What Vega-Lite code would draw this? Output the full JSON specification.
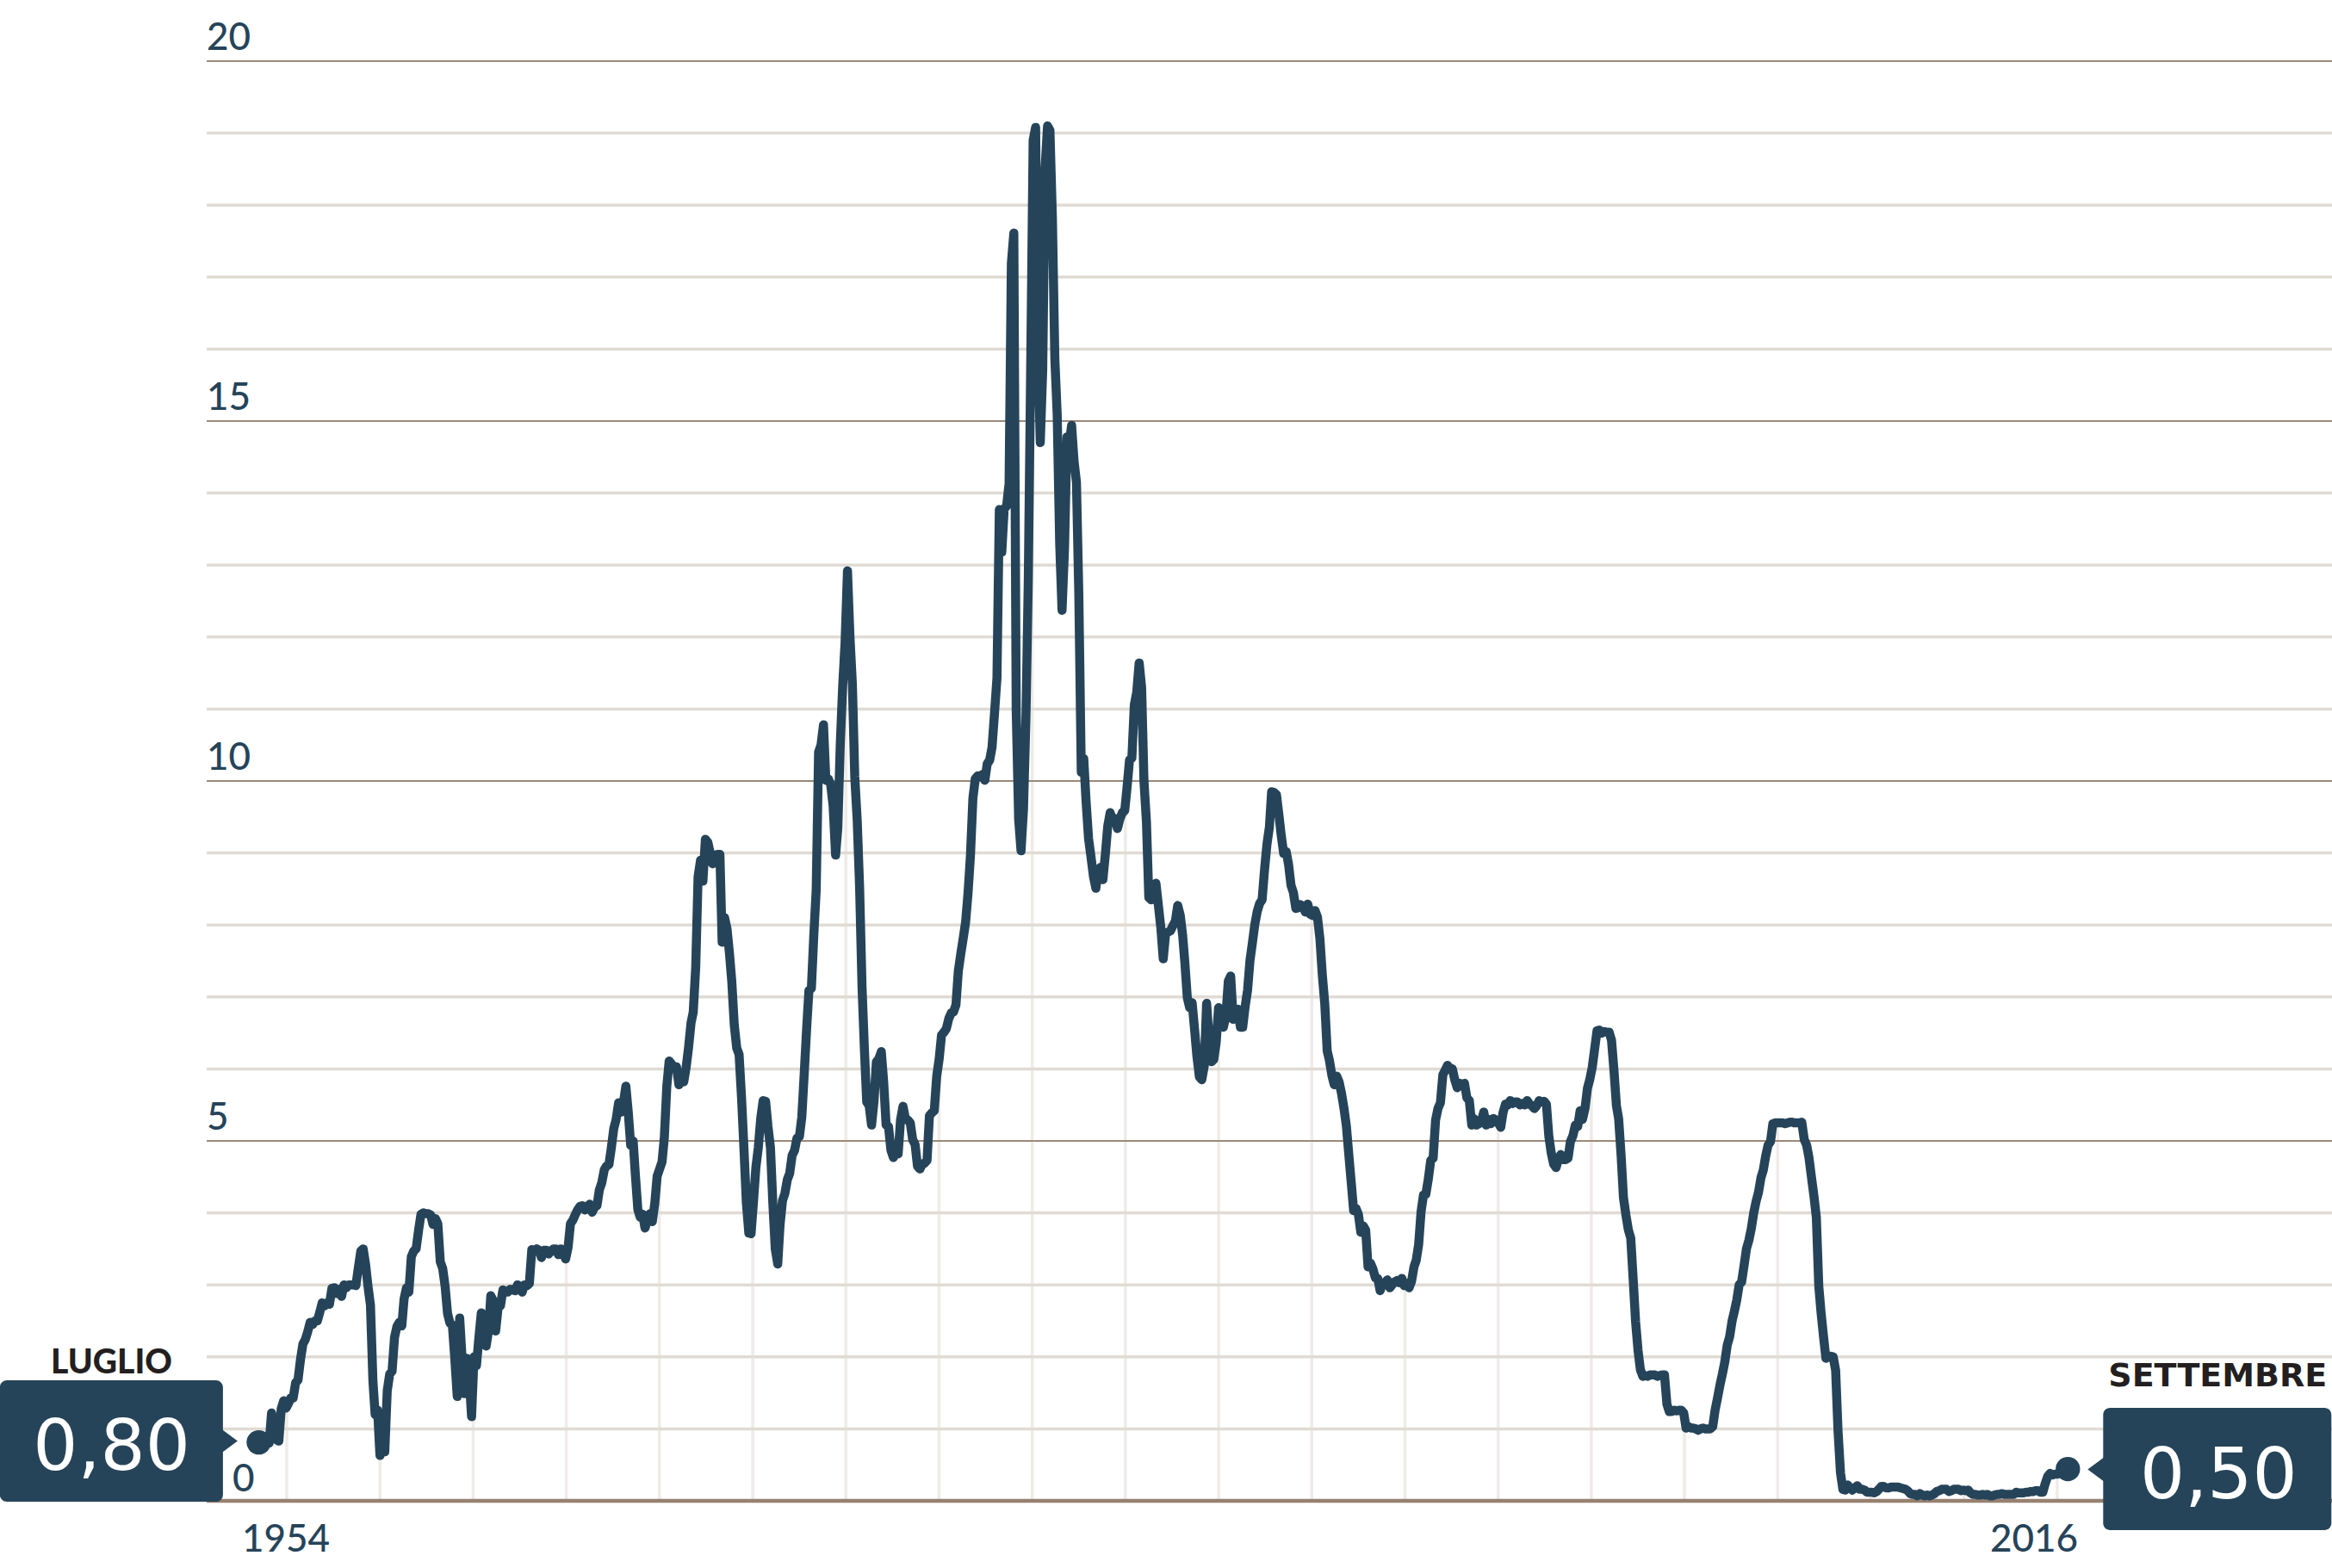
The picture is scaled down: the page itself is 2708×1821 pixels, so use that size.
{
"$schema":"https://vega.github.io/schema/vega-lite/v6.json",
"width":2708,"height":1672,
"autosize":{"type":"none"},
"padding":{"left":0,"right":0,"top":71,"bottom":78},
"background":"white",
"config":{"view":{"stroke":null}},
"datasets":{
"fed":[
{"d":"1954-07","r":0.80},{"d":"1954-08","r":1.22},{"d":"1954-09","r":1.07},{"d":"1954-10","r":0.85},{"d":"1954-11","r":0.83},{"d":"1954-12","r":1.28},
{"d":"1955-01","r":1.39},{"d":"1955-02","r":1.29},{"d":"1955-03","r":1.35},{"d":"1955-04","r":1.43},{"d":"1955-05","r":1.43},{"d":"1955-06","r":1.64},{"d":"1955-07","r":1.68},{"d":"1955-08","r":1.96},{"d":"1955-09","r":2.18},{"d":"1955-10","r":2.24},{"d":"1955-11","r":2.35},{"d":"1955-12","r":2.48},
{"d":"1956-01","r":2.45},{"d":"1956-02","r":2.50},{"d":"1956-03","r":2.50},{"d":"1956-04","r":2.62},{"d":"1956-05","r":2.75},{"d":"1956-06","r":2.71},{"d":"1956-07","r":2.75},{"d":"1956-08","r":2.73},{"d":"1956-09","r":2.95},{"d":"1956-10","r":2.96},{"d":"1956-11","r":2.88},{"d":"1956-12","r":2.94},
{"d":"1957-01","r":2.84},{"d":"1957-02","r":3.00},{"d":"1957-03","r":2.96},{"d":"1957-04","r":3.00},{"d":"1957-05","r":3.00},{"d":"1957-06","r":3.00},{"d":"1957-07","r":2.99},{"d":"1957-08","r":3.24},{"d":"1957-09","r":3.47},{"d":"1957-10","r":3.50},{"d":"1957-11","r":3.28},{"d":"1957-12","r":2.98},
{"d":"1958-01","r":2.72},{"d":"1958-02","r":1.67},{"d":"1958-03","r":1.20},{"d":"1958-04","r":1.26},{"d":"1958-05","r":0.63},{"d":"1958-06","r":0.93},{"d":"1958-07","r":0.68},{"d":"1958-08","r":1.53},{"d":"1958-09","r":1.76},{"d":"1958-10","r":1.80},{"d":"1958-11","r":2.27},{"d":"1958-12","r":2.42},
{"d":"1959-01","r":2.48},{"d":"1959-02","r":2.43},{"d":"1959-03","r":2.80},{"d":"1959-04","r":2.96},{"d":"1959-05","r":2.90},{"d":"1959-06","r":3.39},{"d":"1959-07","r":3.47},{"d":"1959-08","r":3.50},{"d":"1959-09","r":3.76},{"d":"1959-10","r":3.98},{"d":"1959-11","r":4.00},{"d":"1959-12","r":3.99},
{"d":"1960-01","r":3.99},{"d":"1960-02","r":3.97},{"d":"1960-03","r":3.84},{"d":"1960-04","r":3.92},{"d":"1960-05","r":3.85},{"d":"1960-06","r":3.32},{"d":"1960-07","r":3.23},{"d":"1960-08","r":2.98},{"d":"1960-09","r":2.60},{"d":"1960-10","r":2.47},{"d":"1960-11","r":2.44},{"d":"1960-12","r":1.98},
{"d":"1961-01","r":1.45},{"d":"1961-02","r":2.54},{"d":"1961-03","r":2.02},{"d":"1961-04","r":1.49},{"d":"1961-05","r":1.98},{"d":"1961-06","r":1.73},{"d":"1961-07","r":1.17},{"d":"1961-08","r":2.00},{"d":"1961-09","r":1.88},{"d":"1961-10","r":2.26},{"d":"1961-11","r":2.61},{"d":"1961-12","r":2.33},
{"d":"1962-01","r":2.15},{"d":"1962-02","r":2.37},{"d":"1962-03","r":2.85},{"d":"1962-04","r":2.78},{"d":"1962-05","r":2.36},{"d":"1962-06","r":2.68},{"d":"1962-07","r":2.71},{"d":"1962-08","r":2.93},{"d":"1962-09","r":2.90},{"d":"1962-10","r":2.90},{"d":"1962-11","r":2.94},{"d":"1962-12","r":2.93},
{"d":"1963-01","r":2.92},{"d":"1963-02","r":3.00},{"d":"1963-03","r":2.98},{"d":"1963-04","r":2.90},{"d":"1963-05","r":3.00},{"d":"1963-06","r":2.99},{"d":"1963-07","r":3.02},{"d":"1963-08","r":3.49},{"d":"1963-09","r":3.48},{"d":"1963-10","r":3.50},{"d":"1963-11","r":3.48},{"d":"1963-12","r":3.38},
{"d":"1964-01","r":3.48},{"d":"1964-02","r":3.48},{"d":"1964-03","r":3.43},{"d":"1964-04","r":3.47},{"d":"1964-05","r":3.50},{"d":"1964-06","r":3.50},{"d":"1964-07","r":3.42},{"d":"1964-08","r":3.50},{"d":"1964-09","r":3.45},{"d":"1964-10","r":3.36},{"d":"1964-11","r":3.52},{"d":"1964-12","r":3.85},
{"d":"1965-01","r":3.90},{"d":"1965-02","r":3.98},{"d":"1965-03","r":4.04},{"d":"1965-04","r":4.09},{"d":"1965-05","r":4.10},{"d":"1965-06","r":4.04},{"d":"1965-07","r":4.09},{"d":"1965-08","r":4.12},{"d":"1965-09","r":4.01},{"d":"1965-10","r":4.08},{"d":"1965-11","r":4.10},{"d":"1965-12","r":4.32},
{"d":"1966-01","r":4.42},{"d":"1966-02","r":4.60},{"d":"1966-03","r":4.65},{"d":"1966-04","r":4.67},{"d":"1966-05","r":4.90},{"d":"1966-06","r":5.17},{"d":"1966-07","r":5.30},{"d":"1966-08","r":5.53},{"d":"1966-09","r":5.40},{"d":"1966-10","r":5.53},{"d":"1966-11","r":5.76},{"d":"1966-12","r":5.40},
{"d":"1967-01","r":4.94},{"d":"1967-02","r":5.00},{"d":"1967-03","r":4.53},{"d":"1967-04","r":4.05},{"d":"1967-05","r":3.94},{"d":"1967-06","r":3.98},{"d":"1967-07","r":3.79},{"d":"1967-08","r":3.90},{"d":"1967-09","r":3.99},{"d":"1967-10","r":3.88},{"d":"1967-11","r":4.13},{"d":"1967-12","r":4.51},
{"d":"1968-01","r":4.61},{"d":"1968-02","r":4.71},{"d":"1968-03","r":5.05},{"d":"1968-04","r":5.76},{"d":"1968-05","r":6.11},{"d":"1968-06","r":6.07},{"d":"1968-07","r":6.02},{"d":"1968-08","r":6.03},{"d":"1968-09","r":5.78},{"d":"1968-10","r":5.91},{"d":"1968-11","r":5.82},{"d":"1968-12","r":6.02},
{"d":"1969-01","r":6.30},{"d":"1969-02","r":6.64},{"d":"1969-03","r":6.79},{"d":"1969-04","r":7.41},{"d":"1969-05","r":8.67},{"d":"1969-06","r":8.90},{"d":"1969-07","r":8.61},{"d":"1969-08","r":9.19},{"d":"1969-09","r":9.15},{"d":"1969-10","r":9.00},{"d":"1969-11","r":8.85},{"d":"1969-12","r":8.97},
{"d":"1970-01","r":8.98},{"d":"1970-02","r":8.98},{"d":"1970-03","r":7.76},{"d":"1970-04","r":8.10},{"d":"1970-05","r":7.95},{"d":"1970-06","r":7.61},{"d":"1970-07","r":7.21},{"d":"1970-08","r":6.61},{"d":"1970-09","r":6.29},{"d":"1970-10","r":6.20},{"d":"1970-11","r":5.60},{"d":"1970-12","r":4.90},
{"d":"1971-01","r":4.14},{"d":"1971-02","r":3.72},{"d":"1971-03","r":3.71},{"d":"1971-04","r":4.16},{"d":"1971-05","r":4.63},{"d":"1971-06","r":4.91},{"d":"1971-07","r":5.31},{"d":"1971-08","r":5.56},{"d":"1971-09","r":5.55},{"d":"1971-10","r":5.20},{"d":"1971-11","r":4.91},{"d":"1971-12","r":4.14},
{"d":"1972-01","r":3.50},{"d":"1972-02","r":3.29},{"d":"1972-03","r":3.83},{"d":"1972-04","r":4.17},{"d":"1972-05","r":4.27},{"d":"1972-06","r":4.46},{"d":"1972-07","r":4.55},{"d":"1972-08","r":4.80},{"d":"1972-09","r":4.87},{"d":"1972-10","r":5.04},{"d":"1972-11","r":5.06},{"d":"1972-12","r":5.33},
{"d":"1973-01","r":5.94},{"d":"1973-02","r":6.58},{"d":"1973-03","r":7.09},{"d":"1973-04","r":7.12},{"d":"1973-05","r":7.84},{"d":"1973-06","r":8.49},{"d":"1973-07","r":10.40},{"d":"1973-08","r":10.50},{"d":"1973-09","r":10.78},{"d":"1973-10","r":10.01},{"d":"1973-11","r":10.03},{"d":"1973-12","r":9.95},
{"d":"1974-01","r":9.65},{"d":"1974-02","r":8.97},{"d":"1974-03","r":9.35},{"d":"1974-04","r":10.51},{"d":"1974-05","r":11.31},{"d":"1974-06","r":11.93},{"d":"1974-07","r":12.92},{"d":"1974-08","r":12.01},{"d":"1974-09","r":11.34},{"d":"1974-10","r":10.06},{"d":"1974-11","r":9.45},{"d":"1974-12","r":8.53},
{"d":"1975-01","r":7.13},{"d":"1975-02","r":6.24},{"d":"1975-03","r":5.54},{"d":"1975-04","r":5.49},{"d":"1975-05","r":5.22},{"d":"1975-06","r":5.55},{"d":"1975-07","r":6.10},{"d":"1975-08","r":6.14},{"d":"1975-09","r":6.24},{"d":"1975-10","r":5.82},{"d":"1975-11","r":5.22},{"d":"1975-12","r":5.20},
{"d":"1976-01","r":4.87},{"d":"1976-02","r":4.77},{"d":"1976-03","r":4.84},{"d":"1976-04","r":4.82},{"d":"1976-05","r":5.29},{"d":"1976-06","r":5.48},{"d":"1976-07","r":5.31},{"d":"1976-08","r":5.29},{"d":"1976-09","r":5.25},{"d":"1976-10","r":5.02},{"d":"1976-11","r":4.95},{"d":"1976-12","r":4.65},
{"d":"1977-01","r":4.61},{"d":"1977-02","r":4.68},{"d":"1977-03","r":4.69},{"d":"1977-04","r":4.73},{"d":"1977-05","r":5.35},{"d":"1977-06","r":5.39},{"d":"1977-07","r":5.42},{"d":"1977-08","r":5.90},{"d":"1977-09","r":6.14},{"d":"1977-10","r":6.47},{"d":"1977-11","r":6.51},{"d":"1977-12","r":6.56},
{"d":"1978-01","r":6.70},{"d":"1978-02","r":6.78},{"d":"1978-03","r":6.79},{"d":"1978-04","r":6.89},{"d":"1978-05","r":7.36},{"d":"1978-06","r":7.60},{"d":"1978-07","r":7.81},{"d":"1978-08","r":8.04},{"d":"1978-09","r":8.45},{"d":"1978-10","r":8.96},{"d":"1978-11","r":9.76},{"d":"1978-12","r":10.03},
{"d":"1979-01","r":10.07},{"d":"1979-02","r":10.06},{"d":"1979-03","r":10.09},{"d":"1979-04","r":10.01},{"d":"1979-05","r":10.24},{"d":"1979-06","r":10.29},{"d":"1979-07","r":10.47},{"d":"1979-08","r":10.94},{"d":"1979-09","r":11.43},{"d":"1979-10","r":13.77},{"d":"1979-11","r":13.18},{"d":"1979-12","r":13.78},
{"d":"1980-01","r":13.82},{"d":"1980-02","r":14.13},{"d":"1980-03","r":17.19},{"d":"1980-04","r":17.61},{"d":"1980-05","r":10.98},{"d":"1980-06","r":9.47},{"d":"1980-07","r":9.03},{"d":"1980-08","r":9.61},{"d":"1980-09","r":10.87},{"d":"1980-10","r":12.81},{"d":"1980-11","r":15.85},{"d":"1980-12","r":18.90},
{"d":"1981-01","r":19.08},{"d":"1981-02","r":15.93},{"d":"1981-03","r":14.70},{"d":"1981-04","r":15.72},{"d":"1981-05","r":18.52},{"d":"1981-06","r":19.10},{"d":"1981-07","r":19.04},{"d":"1981-08","r":17.82},{"d":"1981-09","r":15.87},{"d":"1981-10","r":15.08},{"d":"1981-11","r":13.31},{"d":"1981-12","r":12.37},
{"d":"1982-01","r":13.22},{"d":"1982-02","r":14.78},{"d":"1982-03","r":14.68},{"d":"1982-04","r":14.94},{"d":"1982-05","r":14.45},{"d":"1982-06","r":14.15},{"d":"1982-07","r":12.59},{"d":"1982-08","r":10.12},{"d":"1982-09","r":10.31},{"d":"1982-10","r":9.71},{"d":"1982-11","r":9.20},{"d":"1982-12","r":8.95},
{"d":"1983-01","r":8.68},{"d":"1983-02","r":8.51},{"d":"1983-03","r":8.77},{"d":"1983-04","r":8.80},{"d":"1983-05","r":8.63},{"d":"1983-06","r":8.98},{"d":"1983-07","r":9.37},{"d":"1983-08","r":9.56},{"d":"1983-09","r":9.45},{"d":"1983-10","r":9.48},{"d":"1983-11","r":9.34},{"d":"1983-12","r":9.47},
{"d":"1984-01","r":9.56},{"d":"1984-02","r":9.59},{"d":"1984-03","r":9.91},{"d":"1984-04","r":10.29},{"d":"1984-05","r":10.32},{"d":"1984-06","r":11.06},{"d":"1984-07","r":11.23},{"d":"1984-08","r":11.64},{"d":"1984-09","r":11.30},{"d":"1984-10","r":9.99},{"d":"1984-11","r":9.43},{"d":"1984-12","r":8.38},
{"d":"1985-01","r":8.35},{"d":"1985-02","r":8.50},{"d":"1985-03","r":8.58},{"d":"1985-04","r":8.27},{"d":"1985-05","r":7.97},{"d":"1985-06","r":7.53},{"d":"1985-07","r":7.88},{"d":"1985-08","r":7.90},{"d":"1985-09","r":7.92},{"d":"1985-10","r":7.99},{"d":"1985-11","r":8.05},{"d":"1985-12","r":8.27},
{"d":"1986-01","r":8.14},{"d":"1986-02","r":7.86},{"d":"1986-03","r":7.48},{"d":"1986-04","r":6.99},{"d":"1986-05","r":6.85},{"d":"1986-06","r":6.92},{"d":"1986-07","r":6.56},{"d":"1986-08","r":6.17},{"d":"1986-09","r":5.89},{"d":"1986-10","r":5.85},{"d":"1986-11","r":6.04},{"d":"1986-12","r":6.91},
{"d":"1987-01","r":6.43},{"d":"1987-02","r":6.10},{"d":"1987-03","r":6.13},{"d":"1987-04","r":6.37},{"d":"1987-05","r":6.85},{"d":"1987-06","r":6.73},{"d":"1987-07","r":6.58},{"d":"1987-08","r":6.73},{"d":"1987-09","r":7.22},{"d":"1987-10","r":7.29},{"d":"1987-11","r":6.69},{"d":"1987-12","r":6.77},
{"d":"1988-01","r":6.83},{"d":"1988-02","r":6.58},{"d":"1988-03","r":6.58},{"d":"1988-04","r":6.87},{"d":"1988-05","r":7.09},{"d":"1988-06","r":7.51},{"d":"1988-07","r":7.75},{"d":"1988-08","r":8.01},{"d":"1988-09","r":8.19},{"d":"1988-10","r":8.30},{"d":"1988-11","r":8.35},{"d":"1988-12","r":8.76},
{"d":"1989-01","r":9.12},{"d":"1989-02","r":9.36},{"d":"1989-03","r":9.85},{"d":"1989-04","r":9.84},{"d":"1989-05","r":9.81},{"d":"1989-06","r":9.53},{"d":"1989-07","r":9.24},{"d":"1989-08","r":8.99},{"d":"1989-09","r":9.02},{"d":"1989-10","r":8.84},{"d":"1989-11","r":8.55},{"d":"1989-12","r":8.45},
{"d":"1990-01","r":8.23},{"d":"1990-02","r":8.24},{"d":"1990-03","r":8.28},{"d":"1990-04","r":8.26},{"d":"1990-05","r":8.18},{"d":"1990-06","r":8.29},{"d":"1990-07","r":8.15},{"d":"1990-08","r":8.13},{"d":"1990-09","r":8.20},{"d":"1990-10","r":8.11},{"d":"1990-11","r":7.81},{"d":"1990-12","r":7.31},
{"d":"1991-01","r":6.91},{"d":"1991-02","r":6.25},{"d":"1991-03","r":6.12},{"d":"1991-04","r":5.91},{"d":"1991-05","r":5.78},{"d":"1991-06","r":5.90},{"d":"1991-07","r":5.82},{"d":"1991-08","r":5.66},{"d":"1991-09","r":5.45},{"d":"1991-10","r":5.21},{"d":"1991-11","r":4.81},{"d":"1991-12","r":4.43},
{"d":"1992-01","r":4.03},{"d":"1992-02","r":4.06},{"d":"1992-03","r":3.98},{"d":"1992-04","r":3.73},{"d":"1992-05","r":3.82},{"d":"1992-06","r":3.76},{"d":"1992-07","r":3.25},{"d":"1992-08","r":3.30},{"d":"1992-09","r":3.22},{"d":"1992-10","r":3.10},{"d":"1992-11","r":3.09},{"d":"1992-12","r":2.92},
{"d":"1993-01","r":3.02},{"d":"1993-02","r":3.03},{"d":"1993-03","r":3.07},{"d":"1993-04","r":2.96},{"d":"1993-05","r":3.00},{"d":"1993-06","r":3.04},{"d":"1993-07","r":3.06},{"d":"1993-08","r":3.03},{"d":"1993-09","r":3.09},{"d":"1993-10","r":2.99},{"d":"1993-11","r":3.02},{"d":"1993-12","r":2.96},
{"d":"1994-01","r":3.05},{"d":"1994-02","r":3.25},{"d":"1994-03","r":3.34},{"d":"1994-04","r":3.56},{"d":"1994-05","r":4.01},{"d":"1994-06","r":4.25},{"d":"1994-07","r":4.26},{"d":"1994-08","r":4.47},{"d":"1994-09","r":4.73},{"d":"1994-10","r":4.76},{"d":"1994-11","r":5.29},{"d":"1994-12","r":5.45},
{"d":"1995-01","r":5.53},{"d":"1995-02","r":5.92},{"d":"1995-03","r":5.98},{"d":"1995-04","r":6.05},{"d":"1995-05","r":6.01},{"d":"1995-06","r":6.00},{"d":"1995-07","r":5.85},{"d":"1995-08","r":5.74},{"d":"1995-09","r":5.80},{"d":"1995-10","r":5.76},{"d":"1995-11","r":5.80},{"d":"1995-12","r":5.60},
{"d":"1996-01","r":5.56},{"d":"1996-02","r":5.22},{"d":"1996-03","r":5.31},{"d":"1996-04","r":5.22},{"d":"1996-05","r":5.24},{"d":"1996-06","r":5.27},{"d":"1996-07","r":5.40},{"d":"1996-08","r":5.22},{"d":"1996-09","r":5.30},{"d":"1996-10","r":5.24},{"d":"1996-11","r":5.31},{"d":"1996-12","r":5.29},
{"d":"1997-01","r":5.25},{"d":"1997-02","r":5.19},{"d":"1997-03","r":5.39},{"d":"1997-04","r":5.51},{"d":"1997-05","r":5.50},{"d":"1997-06","r":5.56},{"d":"1997-07","r":5.52},{"d":"1997-08","r":5.54},{"d":"1997-09","r":5.54},{"d":"1997-10","r":5.50},{"d":"1997-11","r":5.52},{"d":"1997-12","r":5.50},
{"d":"1998-01","r":5.56},{"d":"1998-02","r":5.51},{"d":"1998-03","r":5.49},{"d":"1998-04","r":5.45},{"d":"1998-05","r":5.49},{"d":"1998-06","r":5.56},{"d":"1998-07","r":5.54},{"d":"1998-08","r":5.55},{"d":"1998-09","r":5.51},{"d":"1998-10","r":5.07},{"d":"1998-11","r":4.83},{"d":"1998-12","r":4.68},
{"d":"1999-01","r":4.63},{"d":"1999-02","r":4.76},{"d":"1999-03","r":4.81},{"d":"1999-04","r":4.74},{"d":"1999-05","r":4.74},{"d":"1999-06","r":4.76},{"d":"1999-07","r":4.99},{"d":"1999-08","r":5.07},{"d":"1999-09","r":5.22},{"d":"1999-10","r":5.20},{"d":"1999-11","r":5.42},{"d":"1999-12","r":5.30},
{"d":"2000-01","r":5.45},{"d":"2000-02","r":5.73},{"d":"2000-03","r":5.85},{"d":"2000-04","r":6.02},{"d":"2000-05","r":6.27},{"d":"2000-06","r":6.53},{"d":"2000-07","r":6.54},{"d":"2000-08","r":6.50},{"d":"2000-09","r":6.52},{"d":"2000-10","r":6.51},{"d":"2000-11","r":6.51},{"d":"2000-12","r":6.40},
{"d":"2001-01","r":5.98},{"d":"2001-02","r":5.49},{"d":"2001-03","r":5.31},{"d":"2001-04","r":4.80},{"d":"2001-05","r":4.21},{"d":"2001-06","r":3.97},{"d":"2001-07","r":3.77},{"d":"2001-08","r":3.65},{"d":"2001-09","r":3.07},{"d":"2001-10","r":2.49},{"d":"2001-11","r":2.09},{"d":"2001-12","r":1.82},
{"d":"2002-01","r":1.73},{"d":"2002-02","r":1.74},{"d":"2002-03","r":1.73},{"d":"2002-04","r":1.75},{"d":"2002-05","r":1.75},{"d":"2002-06","r":1.75},{"d":"2002-07","r":1.73},{"d":"2002-08","r":1.74},{"d":"2002-09","r":1.75},{"d":"2002-10","r":1.75},{"d":"2002-11","r":1.34},{"d":"2002-12","r":1.24},
{"d":"2003-01","r":1.24},{"d":"2003-02","r":1.26},{"d":"2003-03","r":1.25},{"d":"2003-04","r":1.26},{"d":"2003-05","r":1.26},{"d":"2003-06","r":1.22},{"d":"2003-07","r":1.01},{"d":"2003-08","r":1.03},{"d":"2003-09","r":1.01},{"d":"2003-10","r":1.01},{"d":"2003-11","r":1.00},{"d":"2003-12","r":0.98},
{"d":"2004-01","r":1.00},{"d":"2004-02","r":1.01},{"d":"2004-03","r":1.00},{"d":"2004-04","r":1.00},{"d":"2004-05","r":1.00},{"d":"2004-06","r":1.03},{"d":"2004-07","r":1.26},{"d":"2004-08","r":1.43},{"d":"2004-09","r":1.61},{"d":"2004-10","r":1.76},{"d":"2004-11","r":1.93},{"d":"2004-12","r":2.16},
{"d":"2005-01","r":2.28},{"d":"2005-02","r":2.50},{"d":"2005-03","r":2.63},{"d":"2005-04","r":2.79},{"d":"2005-05","r":3.00},{"d":"2005-06","r":3.04},{"d":"2005-07","r":3.26},{"d":"2005-08","r":3.50},{"d":"2005-09","r":3.62},{"d":"2005-10","r":3.78},{"d":"2005-11","r":4.00},{"d":"2005-12","r":4.16},
{"d":"2006-01","r":4.29},{"d":"2006-02","r":4.49},{"d":"2006-03","r":4.59},{"d":"2006-04","r":4.79},{"d":"2006-05","r":4.94},{"d":"2006-06","r":4.99},{"d":"2006-07","r":5.24},{"d":"2006-08","r":5.25},{"d":"2006-09","r":5.25},{"d":"2006-10","r":5.25},{"d":"2006-11","r":5.25},{"d":"2006-12","r":5.24},
{"d":"2007-01","r":5.25},{"d":"2007-02","r":5.26},{"d":"2007-03","r":5.26},{"d":"2007-04","r":5.25},{"d":"2007-05","r":5.25},{"d":"2007-06","r":5.25},{"d":"2007-07","r":5.26},{"d":"2007-08","r":5.02},{"d":"2007-09","r":4.94},{"d":"2007-10","r":4.76},{"d":"2007-11","r":4.49},{"d":"2007-12","r":4.24},
{"d":"2008-01","r":3.94},{"d":"2008-02","r":2.98},{"d":"2008-03","r":2.61},{"d":"2008-04","r":2.28},{"d":"2008-05","r":1.98},{"d":"2008-06","r":2.00},{"d":"2008-07","r":2.01},{"d":"2008-08","r":2.00},{"d":"2008-09","r":1.81},{"d":"2008-10","r":0.97},{"d":"2008-11","r":0.39},{"d":"2008-12","r":0.16},
{"d":"2009-01","r":0.15},{"d":"2009-02","r":0.22},{"d":"2009-03","r":0.18},{"d":"2009-04","r":0.15},{"d":"2009-05","r":0.18},{"d":"2009-06","r":0.21},{"d":"2009-07","r":0.16},{"d":"2009-08","r":0.16},{"d":"2009-09","r":0.15},{"d":"2009-10","r":0.12},{"d":"2009-11","r":0.12},{"d":"2009-12","r":0.12},
{"d":"2010-01","r":0.11},{"d":"2010-02","r":0.13},{"d":"2010-03","r":0.16},{"d":"2010-04","r":0.20},{"d":"2010-05","r":0.20},{"d":"2010-06","r":0.18},{"d":"2010-07","r":0.18},{"d":"2010-08","r":0.19},{"d":"2010-09","r":0.19},{"d":"2010-10","r":0.19},{"d":"2010-11","r":0.19},{"d":"2010-12","r":0.18},
{"d":"2011-01","r":0.17},{"d":"2011-02","r":0.16},{"d":"2011-03","r":0.14},{"d":"2011-04","r":0.10},{"d":"2011-05","r":0.09},{"d":"2011-06","r":0.09},{"d":"2011-07","r":0.07},{"d":"2011-08","r":0.10},{"d":"2011-09","r":0.08},{"d":"2011-10","r":0.07},{"d":"2011-11","r":0.08},{"d":"2011-12","r":0.07},
{"d":"2012-01","r":0.08},{"d":"2012-02","r":0.10},{"d":"2012-03","r":0.13},{"d":"2012-04","r":0.14},{"d":"2012-05","r":0.16},{"d":"2012-06","r":0.16},{"d":"2012-07","r":0.16},{"d":"2012-08","r":0.13},{"d":"2012-09","r":0.14},{"d":"2012-10","r":0.16},{"d":"2012-11","r":0.16},{"d":"2012-12","r":0.16},
{"d":"2013-01","r":0.14},{"d":"2013-02","r":0.15},{"d":"2013-03","r":0.14},{"d":"2013-04","r":0.15},{"d":"2013-05","r":0.11},{"d":"2013-06","r":0.09},{"d":"2013-07","r":0.09},{"d":"2013-08","r":0.08},{"d":"2013-09","r":0.08},{"d":"2013-10","r":0.09},{"d":"2013-11","r":0.08},{"d":"2013-12","r":0.09},
{"d":"2014-01","r":0.07},{"d":"2014-02","r":0.07},{"d":"2014-03","r":0.08},{"d":"2014-04","r":0.09},{"d":"2014-05","r":0.09},{"d":"2014-06","r":0.10},{"d":"2014-07","r":0.09},{"d":"2014-08","r":0.09},{"d":"2014-09","r":0.09},{"d":"2014-10","r":0.09},{"d":"2014-11","r":0.09},{"d":"2014-12","r":0.12},
{"d":"2015-01","r":0.11},{"d":"2015-02","r":0.11},{"d":"2015-03","r":0.11},{"d":"2015-04","r":0.12},{"d":"2015-05","r":0.12},{"d":"2015-06","r":0.13},{"d":"2015-07","r":0.13},{"d":"2015-08","r":0.14},{"d":"2015-09","r":0.14},{"d":"2015-10","r":0.12},{"d":"2015-11","r":0.12},{"d":"2015-12","r":0.24},
{"d":"2016-01","r":0.34},{"d":"2016-02","r":0.38},{"d":"2016-03","r":0.36},{"d":"2016-04","r":0.37},{"d":"2016-05","r":0.37},{"d":"2016-06","r":0.38},{"d":"2016-07","r":0.39},{"d":"2016-08","r":0.40},{"d":"2016-09","r":0.40}
],
"ends":[{"d":"1954-07","r":0.80,"m":"LUGLIO","t":"0,80"},{"d":"2016-09","r":0.40,"m":"SETTEMBRE","t":"0,50"}],
"vgrid":[{"d":"1955-02-09"},{"d":"1958-05-01"},{"d":"1961-07-21"},{"d":"1964-10-10"},{"d":"1967-12-30"},{"d":"1971-03-22"},{"d":"1974-06-10"},{"d":"1977-08-31"},{"d":"1980-11-19"},{"d":"1984-02-09"},{"d":"1987-05-01"},{"d":"1990-07-21"},{"d":"1993-10-10"},{"d":"1996-12-30"},{"d":"2000-03-21"},{"d":"2003-06-10"},{"d":"2006-08-31"},{"d":"2009-11-19"},{"d":"2013-02-09"},{"d":"2016-05-01"}],
"hgrid":[{"v":0},{"v":1},{"v":2},{"v":3},{"v":4},{"v":5},{"v":6},{"v":7},{"v":8},{"v":9},{"v":10},{"v":11},{"v":12},{"v":13},{"v":14},{"v":15},{"v":16},{"v":17},{"v":18},{"v":19},{"v":20}],
"ylab":[{"v":5,"t":"5"},{"v":10,"t":"10"},{"v":15,"t":"15"},{"v":20,"t":"20"}],
"zlab":[{"v":0,"t":"0"}],
"xlab":[{"d":"1955-01-29","t":"1954"},{"d":"2015-07-13","t":"2016"}]
},
"layer":[
{"data":{"name":"vgrid"},"mark":{"type":"rule","color":"#efebe7","strokeWidth":3.5},
 "encoding":{"x":{"field":"d","type":"temporal","axis":null,"scale":{"domain":[-782956800000,1761868800000]}}}},
{"data":{"name":"fed"},"mark":{"type":"area","color":"#ffffff","opacity":1},
 "encoding":{"x":{"field":"d","type":"temporal","axis":null},"y":{"field":"r","type":"quantitative","axis":null,"scale":{"domain":[0,20],"nice":false,"zero":true}},"y2":{"datum":20}}},
{"data":{"name":"hgrid"},"transform":[{"filter":"datum.v % 5 != 0"}],"mark":{"type":"rule","color":"#e0dbd4","strokeWidth":3.5},
 "encoding":{"y":{"field":"v","type":"quantitative","axis":null},"x":{"datum":-557366400000,"type":"temporal","axis":null},"x2":{"datum":1761868800000}}},
{"data":{"name":"hgrid"},"transform":[{"filter":"datum.v % 5 == 0 && datum.v > 0"}],"mark":{"type":"rule","color":"#9c8979","strokeWidth":2},
 "encoding":{"y":{"field":"v","type":"quantitative","axis":null},"x":{"datum":-557366400000,"type":"temporal","axis":null},"x2":{"datum":1761868800000}}},
{"data":{"name":"hgrid"},"transform":[{"filter":"datum.v == 0"}],"mark":{"type":"rule","color":"#978170","strokeWidth":4.5},
 "encoding":{"y":{"field":"v","type":"quantitative","axis":null},"x":{"datum":-557366400000,"type":"temporal","axis":null},"x2":{"datum":1761868800000}}},
{"data":{"name":"fed"},"mark":{"type":"line","color":"#264459","strokeWidth":10.5,"strokeJoin":"round","strokeCap":"round"},
 "encoding":{"x":{"field":"d","type":"temporal","axis":null},"y":{"field":"r","type":"quantitative","axis":null}}},
{"data":{"name":"ends"},"transform":[{"filter":"datum.m == 'LUGLIO'"}],"mark":{"type":"rect","color":"#264459","cornerRadius":8,"xOffset":-312.6,"x2Offset":-53.6,"yOffset":-73,"y2Offset":68},
 "encoding":{"x":{"field":"d","type":"temporal","axis":null},"x2":{"field":"d"},"y":{"field":"r","type":"quantitative","axis":null},"y2":{"field":"r"}}},
{"data":{"name":"ends"},"transform":[{"filter":"datum.m == 'LUGLIO'"}],"mark":{"type":"point","filled":true,"opacity":1,"color":"#264459","shape":"M-0.75,-1L0.6,0L-0.75,1Z","size":900,"xOffset":-45.6,"yOffset":-2.6},
 "encoding":{"x":{"field":"d","type":"temporal","axis":null},"y":{"field":"r","type":"quantitative","axis":null}}},
{"data":{"name":"ends"},"transform":[{"filter":"datum.m == 'LUGLIO'"}],"mark":{"type":"point","filled":true,"opacity":1,"color":"#264459","shape":"circle","size":804,"xOffset":-12,"yOffset":-1},
 "encoding":{"x":{"field":"d","type":"temporal","axis":null},"y":{"field":"r","type":"quantitative","axis":null}}},
{"data":{"name":"ends"},"transform":[{"filter":"datum.m == 'LUGLIO'"}],"mark":{"type":"text","color":"#ffffff","font":"DejaVu Sans","fontSize":82,"align":"center","baseline":"alphabetic","dx":-183,"dy":31},
 "encoding":{"x":{"field":"d","type":"temporal","axis":null},"y":{"field":"r","type":"quantitative","axis":null},"text":{"field":"t"}}},
{"data":{"name":"ends"},"transform":[{"filter":"datum.m == 'LUGLIO'"}],"mark":{"type":"text","color":"#231f20","font":"Lato","fontWeight":900,"fontSize":39,"align":"center","baseline":"alphabetic","dx":-183,"dy":-81},
 "encoding":{"x":{"field":"d","type":"temporal","axis":null},"y":{"field":"r","type":"quantitative","axis":null},"text":{"field":"m"}}},
{"data":{"name":"ends"},"transform":[{"filter":"datum.m == 'SETTEMBRE'"}],"mark":{"type":"rect","color":"#264459","cornerRadius":8,"xOffset":42,"x2Offset":307,"yOffset":-74.6,"y2Offset":67.4},
 "encoding":{"x":{"field":"d","type":"temporal","axis":null},"x2":{"field":"d"},"y":{"field":"r","type":"quantitative","axis":null},"y2":{"field":"r"}}},
{"data":{"name":"ends"},"transform":[{"filter":"datum.m == 'SETTEMBRE'"}],"mark":{"type":"point","filled":true,"opacity":1,"color":"#264459","shape":"M0.75,-1L-0.6,0L0.75,1Z","size":900,"xOffset":33,"yOffset":-3},
 "encoding":{"x":{"field":"d","type":"temporal","axis":null},"y":{"field":"r","type":"quantitative","axis":null}}},
{"data":{"name":"ends"},"transform":[{"filter":"datum.m == 'SETTEMBRE'"}],"mark":{"type":"point","filled":true,"opacity":1,"color":"#264459","shape":"circle","size":804,"xOffset":1,"yOffset":-3.5},
 "encoding":{"x":{"field":"d","type":"temporal","axis":null},"y":{"field":"r","type":"quantitative","axis":null}}},
{"data":{"name":"ends"},"transform":[{"filter":"datum.m == 'SETTEMBRE'"}],"mark":{"type":"text","color":"#ffffff","font":"DejaVu Sans","fontSize":82,"align":"center","baseline":"alphabetic","dx":176,"dy":30.4},
 "encoding":{"x":{"field":"d","type":"temporal","axis":null},"y":{"field":"r","type":"quantitative","axis":null},"text":{"field":"t"}}},
{"data":{"name":"ends"},"transform":[{"filter":"datum.m == 'SETTEMBRE'"}],"mark":{"type":"text","color":"#231f20","font":"DejaVu Sans","fontWeight":"bold","fontSize":38,"align":"right","baseline":"alphabetic","dx":302,"dy":-99.6},
 "encoding":{"x":{"field":"d","type":"temporal","axis":null},"y":{"field":"r","type":"quantitative","axis":null},"text":{"field":"m"}}},
{"data":{"name":"ylab"},"mark":{"type":"text","color":"#264459","font":"Lato","fontWeight":500,"fontSize":44,"align":"left","baseline":"alphabetic","dy":-13},
 "encoding":{"x":{"datum":-557366400000,"type":"temporal","axis":null},"y":{"field":"v","type":"quantitative","axis":null},"text":{"field":"t"}}},
{"data":{"name":"zlab"},"mark":{"type":"text","color":"#264459","font":"Lato","fontWeight":500,"fontSize":44,"align":"left","baseline":"alphabetic","dy":-11},
 "encoding":{"x":{"datum":-529286400000,"type":"temporal","axis":null},"y":{"field":"v","type":"quantitative","axis":null},"text":{"field":"t"}}},
{"data":{"name":"xlab"},"mark":{"type":"text","color":"#264459","font":"Lato","fontWeight":500,"fontSize":44,"align":"center","baseline":"alphabetic","dy":59},
 "encoding":{"x":{"field":"d","type":"temporal","axis":null},"y":{"datum":0,"type":"quantitative","axis":null},"text":{"field":"t"}}}
]
}
